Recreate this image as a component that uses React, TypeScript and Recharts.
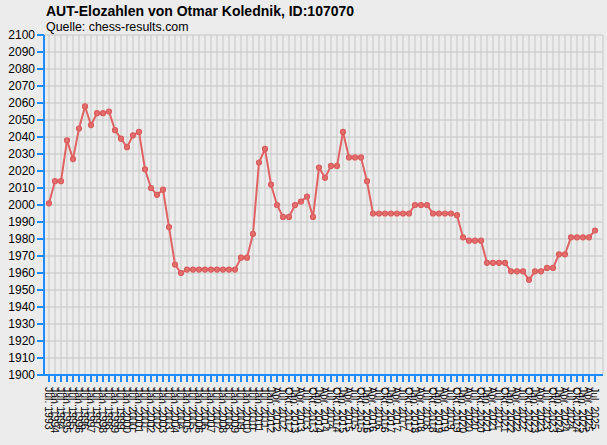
import { LineChart, Line, XAxis, YAxis, CartesianGrid } from 'recharts';

// rating periods: half-yearly until Jan. 2012, quarterly afterwards
const periods = [
  'Jul. 1993',
  'Jan. 1994', 'Jul. 1994', 'Jan. 1995', 'Jul. 1995', 'Jan. 1996', 'Jul. 1996',
  'Jan. 1997', 'Jul. 1997', 'Jan. 1998', 'Jul. 1998', 'Jan. 1999', 'Jul. 1999',
  'Jan. 2000', 'Jul. 2000', 'Jan. 2001', 'Jul. 2001', 'Jan. 2002', 'Jul. 2002',
  'Jan. 2003', 'Jul. 2003', 'Jan. 2004', 'Jul. 2004', 'Jan. 2005', 'Jul. 2005',
  'Jan. 2006', 'Jul. 2006', 'Jan. 2007', 'Jul. 2007', 'Jan. 2008', 'Jul. 2008',
  'Jan. 2009', 'Jul. 2009', 'Jan. 2010', 'Jul. 2010', 'Jan. 2011', 'Jul. 2011',
  'Jan. 2012', 'Apr. 2012', 'Jul. 2012', 'Okt. 2012',
  'Jan. 2013', 'Apr. 2013', 'Jul. 2013', 'Okt. 2013',
  'Jan. 2014', 'Apr. 2014', 'Jul. 2014', 'Okt. 2014',
  'Jan. 2015', 'Apr. 2015', 'Jul. 2015', 'Okt. 2015',
  'Jan. 2016', 'Apr. 2016', 'Jul. 2016', 'Okt. 2016',
  'Jan. 2017', 'Apr. 2017', 'Jul. 2017', 'Okt. 2017',
  'Jan. 2018', 'Apr. 2018', 'Jul. 2018', 'Okt. 2018',
  'Jan. 2019', 'Apr. 2019', 'Jul. 2019', 'Okt. 2019',
  'Jan. 2020', 'Apr. 2020', 'Jul. 2020', 'Okt. 2020',
  'Jan. 2021', 'Apr. 2021', 'Jul. 2021', 'Okt. 2021',
  'Jan. 2022', 'Apr. 2022', 'Jul. 2022', 'Okt. 2022',
  'Jan. 2023', 'Apr. 2023', 'Jul. 2023', 'Okt. 2023',
  'Jan. 2024', 'Apr. 2024', 'Jul. 2024', 'Okt. 2024',
  'Jan. 2025', 'Apr. 2025', 'Jul. 2025',
];

const elo = [
  2001, 2014, 2014, 2038, 2027, 2045, 2058, 2047, 2054, 2054,
  2055, 2044, 2039, 2034, 2041, 2043, 2021, 2010, 2006, 2009,
  1987, 1965, 1960, 1962, 1962, 1962, 1962, 1962, 1962, 1962,
  1962, 1962, 1969, 1969, 1983, 2025, 2033, 2012, 2000, 1993,
  1993, 2000, 2002, 2005, 1993, 2022, 2016, 2023, 2023, 2043,
  2028, 2028, 2028, 2014, 1995, 1995, 1995, 1995, 1995, 1995,
  1995, 2000, 2000, 2000, 1995, 1995, 1995, 1995, 1994, 1981,
  1979, 1979, 1979, 1966, 1966, 1966, 1966, 1961, 1961, 1961,
  1956, 1961, 1961, 1963, 1963, 1971, 1971, 1981, 1981, 1981,
  1981, 1985,
];

const eloTicks = [
  1900, 1910, 1920, 1930, 1940, 1950, 1960, 1970, 1980, 1990, 2000,
  2010, 2020, 2030, 2040, 2050, 2060, 2070, 2080, 2090, 2100,
];

const data = periods.map((period, i) => ({ period, elo: elo[i] }));

const AXIS_BLUE = '#1e8cff';
const FONT = '"Liberation Sans", Arial, sans-serif';

function PeriodTick({ x, y, payload }: any) {
  return (
    <g transform={`translate(${x},${y})`}>
      <text transform="rotate(90)" dy="0.36em" textAnchor="start" fontSize={10.5} fill="#000" fontFamily={FONT}>
        {payload.value}
      </text>
    </g>
  );
}

export default function App() {
  return (
    <div style={{ position: 'relative', width: 607, height: 445, background: '#ececec', fontFamily: FONT }}>
      <style>{'body{margin:0}'}</style>
      <LineChart width={607} height={445} data={data} margin={{ top: 35, right: 4, bottom: 0, left: 0 }}>
        <CartesianGrid stroke="#c6c6c6" strokeWidth={1} />
        <XAxis
          dataKey="period"
          interval={0}
          height={70}
          padding={{ left: 5, right: 8 }}
          axisLine={{ stroke: AXIS_BLUE, strokeWidth: 2 }}
          tickLine={{ stroke: AXIS_BLUE, strokeWidth: 2 }}
          tickSize={7}
          tickMargin={5}
          tick={<PeriodTick />}
        />
        <YAxis
          domain={[1900, 2100]}
          ticks={eloTicks}
          interval={0}
          width={44}
          axisLine={{ stroke: AXIS_BLUE, strokeWidth: 2 }}
          tickLine={{ stroke: AXIS_BLUE, strokeWidth: 2 }}
          tickSize={7}
          tickMargin={2}
          tick={{ fontSize: 12, fill: '#000', fontFamily: FONT }}
        />
        <Line
          type="linear"
          dataKey="elo"
          stroke="#e06262"
          strokeWidth={2}
          dot={{ r: 2.5, fill: '#e46c6c', stroke: '#d95c5c', strokeWidth: 1.2 }}
          isAnimationActive={false}
        />
      </LineChart>
      <svg width={607} height={40} style={{ position: 'absolute', left: 0, top: 0, pointerEvents: 'none' }}>
        <text x={46} y={16} fontSize={14} fontWeight="bold" fill="#000" fontFamily={FONT}>
          AUT-Elozahlen von Otmar Kolednik, ID:107070
        </text>
        <text x={46} y={31} fontSize={12.4} fill="#000" fontFamily={FONT}>
          Quelle: chess-results.com
        </text>
      </svg>
    </div>
  );
}
